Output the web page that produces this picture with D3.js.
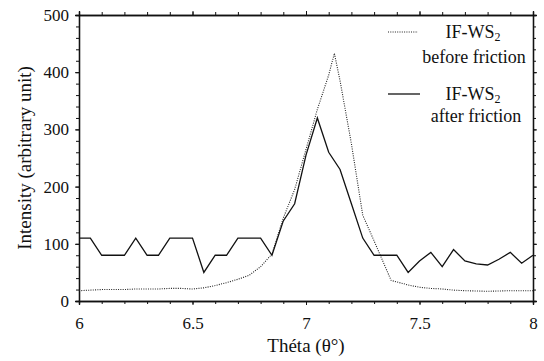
<!DOCTYPE html>
<html><head><meta charset="utf-8">
<script src="https://cdn.jsdelivr.net/npm/d3@7"></script>
<style>
body{margin:0;background:#fff;}
svg text{font-family:'Liberation Serif','Times New Roman','DejaVu Serif',serif !important;fill:#111;}
</style></head>
<body><svg id="c" width="544" height="361"></svg>
<script>
// theta values and intensities
const thetaAfter = [6,6.05,6.1,6.15,6.2,6.25,6.3,6.35,6.4,6.45,6.5,6.55,6.6,6.65,6.7,6.75,6.8,6.85,6.9,6.95,7.0,7.05,7.1,7.15,7.2,7.25,7.3,7.35,7.4,7.45,7.5,7.55,7.6,7.65,7.7,7.75,7.8,7.85,7.9,7.95,8.0];
const intensityAfter = [110,110,80,80,80,110,80,80,110,110,110,50,80,80,110,110,110,80,140,170,255,320,260,230,170,110,80,80,80,50,70,85,60,90,70,65,63,73,85,66,80];
const thetaBefore = [6,6.05,6.1,6.15,6.2,6.25,6.3,6.35,6.4,6.45,6.5,6.55,6.6,6.65,6.7,6.75,6.8,6.85,6.9,6.95,7.0,7.05,7.1,7.125,7.15,7.2,7.25,7.3,7.375,7.45,7.5,7.55,7.6,7.65,7.7,7.8,7.9,8.0];
const intensityBefore = [18,19,20,20,20,21,21,21,22,22,21,23,27,32,38,45,60,82,145,195,265,335,395,433,385,275,150,105,36,28,24,22,21,19,18,17,18,18];
const xTicks = [6,6.5,7,7.5,8];
const yTicks = [0,100,200,300,400,500];
const legendLabels = ["before friction","after friction"];

const FONT = "'Liberation Serif','Times New Roman','DejaVu Serif',serif";
const svg = d3.select("#c");
const L=79,R=533,T=15,B=301;
const x = d3.scaleLinear().domain([6,8]).range([L,R]);
const y = d3.scaleLinear().domain([0,500]).range([B,T]);
const xMinor = d3.range(6,8.0001,0.1);
const yMinor = d3.range(0,500.001,20);

const axStroke = "#111";
function addAxis(axisGen, tf){
  const g = svg.append("g").attr("transform",tf).call(axisGen).attr("font-family",FONT);
  g.select(".domain").attr("stroke",axStroke).attr("stroke-width",1.3);
  g.selectAll(".tick line").attr("stroke",axStroke).attr("stroke-width",1);
  return g;
}
addAxis(d3.axisBottom(x).tickValues(xMinor).tickSize(3).tickFormat(""),`translate(0,${B})`);
addAxis(d3.axisTop(x).tickValues(xMinor).tickSize(3).tickFormat(""),`translate(0,${T})`);
addAxis(d3.axisLeft(y).tickValues(yMinor).tickSize(3).tickFormat(""),`translate(${L},0)`);
addAxis(d3.axisRight(y).tickValues(yMinor).tickSize(3).tickFormat(""),`translate(${R},0)`);
const gx = addAxis(d3.axisBottom(x).tickValues(xTicks).tickSize(4).tickPadding(12).tickFormat(d3.format("")),`translate(0,${B})`);
gx.selectAll("text").attr("font-size",17).attr("fill","#111").style("font-family",FONT);
const gy = addAxis(d3.axisLeft(y).tickValues(yTicks).tickSize(4).tickPadding(6),`translate(${L},0)`);
gy.selectAll("text").attr("font-size",17).attr("fill","#111").style("font-family",FONT);
addAxis(d3.axisTop(x).tickValues(xTicks).tickSize(4).tickFormat(""),`translate(0,${T})`);
addAxis(d3.axisRight(y).tickValues(yTicks).tickSize(4).tickFormat(""),`translate(${R},0)`);

const line = d3.line().x(d=>x(d[0])).y(d=>y(d[1]));
svg.append("path").datum(d3.zip(thetaBefore,intensityBefore)).attr("d",line)
  .attr("fill","none").attr("stroke","#222").attr("stroke-width",1.1).attr("stroke-dasharray","1,1.3");
svg.append("path").datum(d3.zip(thetaAfter,intensityAfter)).attr("d",line)
  .attr("fill","none").attr("stroke","#111").attr("stroke-width",1.3);

function txt(){ return svg.append("text").style("font-family",FONT).attr("fill","#111"); }
txt().attr("x",(L+R)/2).attr("y",352).attr("text-anchor","middle").attr("font-size",19).text("Théta (θ°)");
txt().attr("transform",`translate(31,${(T+B)/2}) rotate(-90)`).attr("text-anchor","middle").attr("font-size",19).text("Intensity (arbitrary unit)");

svg.append("line").attr("x1",388).attr("x2",418).attr("y1",32).attr("y2",32).attr("stroke","#222").attr("stroke-width",1.1).attr("stroke-dasharray","1,1.3");
svg.append("line").attr("x1",388).attr("x2",420).attr("y1",94).attr("y2",94).attr("stroke","#111").attr("stroke-width",1.3);
function wsLabel(cx,by){
  const t = txt().attr("x",cx).attr("y",by).attr("text-anchor","middle").attr("font-size",18);
  t.append("tspan").text("IF-WS");
  t.append("tspan").attr("font-size",12).attr("dy",3).text("2");
}
wsLabel(473,38);
txt().attr("x",474).attr("y",63).attr("text-anchor","middle").attr("font-size",18).text(legendLabels[0]);
wsLabel(473,100);
txt().attr("x",476).attr("y",122).attr("text-anchor","middle").attr("font-size",18).text(legendLabels[1]);
</script></body></html>
